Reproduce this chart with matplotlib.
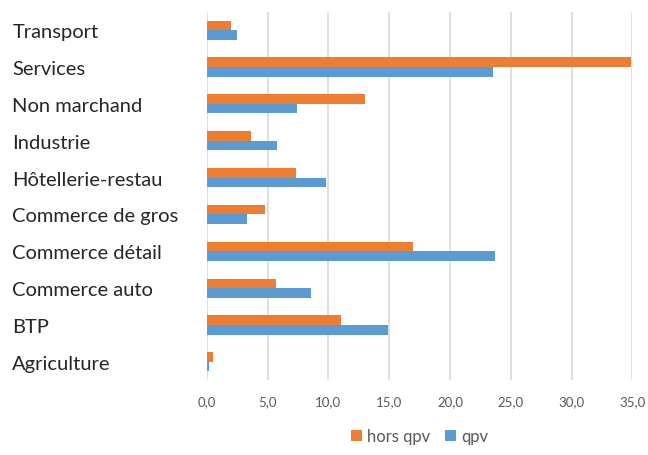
import matplotlib
matplotlib.use("Agg")
import matplotlib.pyplot as plt
import numpy as np
from matplotlib.ticker import FuncFormatter

# bottom to top
categories = ["Agriculture", "BTP", "Commerce auto", "Commerce détail", "Commerce de gros",
              "Hôtellerie-restau", "Industrie", "Non marchand", "Services", "Transport"]
hors_qpv = [0.5, 11.0, 5.7, 17.0, 4.8, 7.3, 3.6, 13.0, 34.9, 2.0]
qpv = [0.2, 14.9, 8.6, 23.7, 3.3, 9.8, 5.8, 7.4, 23.5, 2.5]

plt.rcParams["font.family"] = ["Lato", "DejaVu Sans"]

fig = plt.figure(figsize=(6.48, 4.56), dpi=100)
ax = fig.add_axes([0.319, 0.164, 0.657, 0.808])

y = np.arange(len(categories))
h = 0.26
ax.barh(y + h / 2, hors_qpv, height=h, color="#ED7D31", label="hors qpv", zorder=3)
ax.barh(y - h / 2, qpv, height=h, color="#5B9BD5", label="qpv", zorder=3)

ax.set_xlim(0, 35)
ax.set_ylim(-0.5, len(categories) - 0.5)
ax.set_xticks(np.arange(0, 36, 5))
ax.xaxis.set_major_formatter(FuncFormatter(lambda v, _: f"{v:.1f}".replace(".", ",")))
ax.tick_params(axis="x", length=0, labelsize=9.5, labelcolor="#595959", pad=11)
ax.set_yticks(y)
ax.set_yticklabels(categories, fontsize=14.5, color="#262626")
ax.tick_params(axis="y", length=0, pad=140)
for lbl in ax.get_yticklabels():
  lbl.set_horizontalalignment("left")

ax.grid(axis="x", color="#d9d9d9", linewidth=1.2, zorder=0)
for s in ax.spines.values():
  s.set_visible(False)

ax.legend(loc="center", bbox_to_anchor=(0.5, -0.152), ncol=2, frameon=False,
          fontsize=12, labelcolor="#595959", handlelength=0.66, handleheight=0.66,
          columnspacing=0.9, handletextpad=0.3, borderpad=0)

fig.savefig("out.png", dpi=100)
